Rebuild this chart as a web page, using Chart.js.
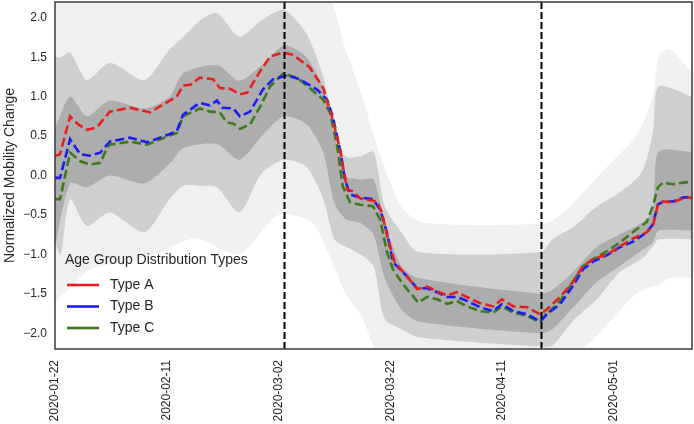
<!DOCTYPE html>
<html>
<head>
<meta charset="utf-8">
<script src="https://cdn.jsdelivr.net/npm/chart.js@4.4.0/dist/chart.umd.min.js"></script>
<style>
  html, body { margin: 0; padding: 0; background: #fff; }
  #wrap { width: 694px; height: 424px; }
</style>
</head>
<body>
<div id="wrap"><canvas id="chart" width="694" height="424"></canvas></div>
<script>
/* ── Data: x = days since 2020-01-22 ───────────────────────────── */

const TICK_DAYS   = [0, 20, 40, 60, 80, 100];
const TICK_LABELS = ['2020-01-22', '2020-02-11', '2020-03-02', '2020-03-22', '2020-04-11', '2020-05-01'];
const Y_TICKS     = [-2.0, -1.5, -1.0, -0.5, 0.0, 0.5, 1.0, 1.5, 2.0];
const EVENT_DAYS  = [41, 87];   /* vertical dashed markers */

const TYPE_NAMES  = ['Type A', 'Type B', 'Type C'];

const A_DAYS = [0, 0.9, 2.7, 4.1, 5.7, 7.5, 9.8, 13.4, 17, 19.3, 21.8, 22.9, 24.2, 25.9, 28.3, 29.5, 31.3, 33.1, 34.4, 36.7, 38.5, 40.8, 42.6, 45.6, 48, 49.7, 51, 52.3, 53.3, 54.6, 57.6, 58.5, 59.6, 60.8, 63, 64.8, 66.6, 68.4, 70.2, 71.9, 73.7, 76.1, 78.4, 80, 82, 84.5, 86.8, 88, 90.4, 92.7, 94.5, 96.3, 98.8, 101.1, 103.4, 105.9, 107, 107.9, 108.8, 110.6, 112.4, 114];
const A_VALS = [0.25, 0.27, 0.75, 0.65, 0.58, 0.61, 0.81, 0.86, 0.80, 0.90, 1.00, 1.14, 1.15, 1.24, 1.22, 1.11, 1.10, 1.03, 1.05, 1.32, 1.51, 1.56, 1.53, 1.37, 1.11, 0.71, 0.33, -0.18, -0.20, -0.29, -0.33, -0.47, -0.81, -1.10, -1.28, -1.44, -1.41, -1.47, -1.52, -1.48, -1.54, -1.62, -1.66, -1.57, -1.66, -1.67, -1.76, -1.70, -1.54, -1.35, -1.15, -1.06, -1.00, -0.90, -0.80, -0.72, -0.64, -0.37, -0.33, -0.34, -0.29, -0.28];

const B_DAYS = [0, 0.9, 2.7, 4.5, 6.3, 8.1, 9.8, 13.4, 16.5, 18.8, 21.8, 22.9, 25.9, 27.7, 29, 29.9, 31.9, 33.1, 34.9, 37.2, 39, 41.5, 43.8, 46.9, 48.7, 49.7, 51, 51.9, 52.8, 54.6, 56.9, 58.2, 59.4, 60.5, 63, 64.8, 66.6, 68.4, 70.2, 71.9, 73.7, 76.1, 78.4, 80, 82, 84.5, 86.8, 88, 90.4, 92.7, 94.5, 96.3, 98.8, 101.1, 103.4, 105.9, 107, 107.9, 108.8, 110.6, 112.4, 114];
const B_VALS = [-0.03, -0.03, 0.46, 0.27, 0.25, 0.29, 0.43, 0.48, 0.42, 0.48, 0.56, 0.77, 0.92, 0.89, 0.95, 0.86, 0.85, 0.75, 0.81, 1.09, 1.22, 1.27, 1.22, 1.09, 0.96, 0.75, 0.33, -0.05, -0.24, -0.28, -0.30, -0.43, -0.72, -1.10, -1.28, -1.43, -1.43, -1.48, -1.54, -1.54, -1.59, -1.67, -1.72, -1.63, -1.72, -1.76, -1.85, -1.76, -1.63, -1.40, -1.19, -1.09, -1.01, -0.91, -0.84, -0.72, -0.62, -0.37, -0.33, -0.33, -0.28, -0.27];

const C_DAYS = [0, 0.9, 2.7, 4.5, 6.3, 8.1, 9.3, 9.8, 13.4, 16.5, 18.8, 21.8, 22.9, 25.9, 27.7, 29.5, 30.8, 31.9, 33.1, 34.9, 36.7, 38.5, 40.8, 43.3, 45.6, 48, 49.2, 50.5, 51.5, 52.8, 54.6, 56.9, 58.2, 59.4, 60.5, 62.3, 65, 66.6, 68.4, 70.2, 71.9, 73.7, 76.1, 78.4, 80, 82, 84.5, 86.8, 88, 90.4, 92.7, 94.5, 96.3, 98.8, 101.1, 103.4, 105.9, 107, 107.9, 108.8, 110.6, 112.4, 114];
const C_VALS = [-0.30, -0.30, 0.29, 0.18, 0.14, 0.16, 0.35, 0.39, 0.43, 0.39, 0.46, 0.54, 0.75, 0.85, 0.81, 0.80, 0.67, 0.66, 0.59, 0.65, 0.87, 1.13, 1.29, 1.24, 1.11, 0.96, 0.80, 0.37, -0.14, -0.34, -0.37, -0.39, -0.56, -0.97, -1.19, -1.38, -1.61, -1.54, -1.57, -1.63, -1.59, -1.66, -1.72, -1.74, -1.66, -1.74, -1.78, -1.86, -1.76, -1.59, -1.35, -1.15, -1.06, -0.96, -0.85, -0.72, -0.59, -0.39, -0.15, -0.09, -0.11, -0.09, -0.08];

/* background county-level lines, summarised as density bands */
const FAINT_DAYS = [0, 3, 6, 12, 18, 25, 33, 40, 46, 49, 52, 55, 58, 62, 66, 88, 92, 96, 100, 104, 107, 108, 110, 114];
const FAINT_TOP  = [2.3, 2.3, 2.3, 2.3, 2.3, 2.3, 2.3, 2.3, 2.3, 2.3, 1.6, 1.0, 0.3, -0.4, -0.6, -0.6, -0.4, -0.1, 0.2, 0.5, 1.0, 1.5, 1.6, 1.3];
const FAINT_BOT  = [-1.6, -1.4, -1.2, -1.1, -1.0, -0.8, -1.0, -0.5, -0.6, -1.0, -1.5, -1.8, -2.3, -2.3, -2.3, -2.3, -2.3, -2.1, -1.8, -1.5, -1.4, -1.4, -1.3, -1.3];

const MID_DAYS = [0, 1, 2.7, 5.7, 9.8, 16, 20.5, 23, 26, 29, 33, 37, 41, 45, 48, 50, 52, 54.6, 57, 59, 62, 65, 87, 89, 93, 97, 101, 105, 107, 108, 114];
const MID_TOP  = [1.5, 1.5, 1.56, 1.21, 1.43, 1.21, 1.6, 1.76, 1.97, 2.06, 1.76, 1.97, 2.1, 1.8, 1.25, 0.62, 0.24, 0.24, 0.3, -0.39, -0.72, -0.97, -0.97, -0.81, -0.64, -0.39, -0.22, 0.04, 0.54, 1.13, 1.0];
const MID_BOT  = [-0.85, -1.0, -0.3, -0.64, -0.47, -0.72, -0.3, -0.13, -0.13, -0.15, -0.47, 0.03, 0.2, 0.11, -0.3, -0.81, -0.9, -1.0, -1.15, -1.82, -1.95, -2.05, -2.17, -2.16, -1.82, -1.57, -1.23, -1.06, -0.9, -0.81, -0.81];

const CORE_DAYS = [0, 2.7, 5.7, 9.8, 16, 20.5, 23, 29, 33, 37, 41, 45, 48, 50, 52, 54.6, 57, 59, 62, 65, 87, 89, 93, 97, 101, 105, 107, 108, 114];
const CORE_TOP  = [0.6, 1.0, 0.75, 0.95, 0.85, 1.0, 1.3, 1.4, 1.2, 1.4, 1.65, 1.5, 1.1, 0.5, 0.0, -0.05, -0.05, -0.6, -1.15, -1.3, -1.5, -1.45, -1.2, -0.9, -0.75, -0.6, -0.45, 0.3, 0.3];
const CORE_BOT  = [-0.9, -0.1, -0.15, 0.0, -0.1, 0.15, 0.35, 0.4, 0.2, 0.5, 0.75, 0.65, 0.3, -0.35, -0.55, -0.6, -0.75, -1.3, -1.7, -1.85, -2.0, -1.95, -1.65, -1.35, -1.15, -0.95, -0.85, -0.7, -0.7];

/* ── Styling ───────────────────────────────────────────────────── */
const TYPE_COLORS = ['#e3201c', '#1c1cf5', '#3b7a1d'];
const FONT = "'Liberation Sans', Arial, sans-serif";

Chart.defaults.font.family = FONT;
Chart.defaults.color = '#262626';

const pts = (xs, ys) => xs.map((x, i) => ({ x, y: ys[i] }));

function band(days, top, bot, color) {
  return [
    { data: pts(days, top), fill: '+1', backgroundColor: color, borderWidth: 0, pointRadius: 0, tension: 0.25, order: 5 },
    { data: pts(days, bot), fill: false, borderWidth: 0, pointRadius: 0, tension: 0.25, order: 5 },
  ];
}

function typeLine(days, vals, color, order) {
  return { data: pts(days, vals), borderColor: color, borderWidth: 2.6, borderDash: [9, 4],
           pointRadius: 0, fill: false, tension: 0, order };
}

/* ── Plugins: frame, event lines, legend ───────────────────────── */
const overlay = {
  id: 'overlay',
  afterDatasetsDraw(chart) {
    const { ctx, chartArea: a, scales: { x } } = chart;
    ctx.save();
    ctx.strokeStyle = '#000';
    ctx.lineWidth = 2;
    ctx.setLineDash([7, 3]);
    EVENT_DAYS.forEach(d => {
      const px = Math.round(x.getPixelForValue(d)) + 0.5;
      ctx.beginPath();
      ctx.moveTo(px, a.top);
      ctx.lineTo(px, a.bottom);
      ctx.stroke();
    });
    ctx.restore();
  },
  afterDraw(chart) {
    const { ctx, chartArea: a } = chart;
    ctx.save();
    ctx.strokeStyle = '#3a3a3a';
    ctx.lineWidth = 1.5;
    ctx.strokeRect(a.left, a.top, a.right - a.left, a.bottom - a.top);

    /* legend */
    ctx.font = '14px ' + FONT;
    ctx.fillStyle = '#262626';
    ctx.textBaseline = 'middle';
    ctx.fillText('Age Group Distribution Types', 65, 260);
    TYPE_NAMES.forEach((name, i) => {
      const y = 285 + i * 21.5;
      ctx.strokeStyle = TYPE_COLORS[i];
      ctx.lineWidth = 2.6;
      ctx.beginPath();
      ctx.moveTo(67, y);
      ctx.lineTo(99, y);
      ctx.stroke();
      ctx.fillStyle = '#262626';
      ctx.fillText(name, 110, y);
    });
    ctx.restore();
  },
};

/* ── Chart ─────────────────────────────────────────────────────── */
new Chart(document.getElementById('chart'), {
  type: 'line',
  data: {
    datasets: [
      typeLine(A_DAYS, A_VALS, TYPE_COLORS[0], 0),
      typeLine(B_DAYS, B_VALS, TYPE_COLORS[1], 1),
      typeLine(C_DAYS, C_VALS, TYPE_COLORS[2], 2),
      ...band(FAINT_DAYS, FAINT_TOP, FAINT_BOT, 'rgba(0,0,0,0.06)'),
      ...band(MID_DAYS, MID_TOP, MID_BOT, 'rgba(0,0,0,0.14)'),
      ...band(CORE_DAYS, CORE_TOP, CORE_BOT, 'rgba(0,0,0,0.17)'),
    ],
  },
  options: {
    responsive: false,
    animation: false,
    layout: { padding: { left: 0, right: 2, top: 2, bottom: 0 } },
    plugins: { legend: { display: false }, tooltip: { enabled: false } },
    scales: {
      x: {
        type: 'linear',
        min: 0,
        max: 114,
        grid: { display: false, drawTicks: false },
        border: { display: false },
        afterBuildTicks: s => { s.ticks = TICK_DAYS.map(v => ({ value: v })); },
        afterFit: s => { s.height = 75; s.paddingLeft = 0; s.paddingRight = 0; },
        ticks: {
          autoSkip: false,
          minRotation: 90,
          maxRotation: 90,
          padding: 11,
          font: { size: 12 },
          callback: (v, i) => TICK_LABELS[i],
        },
      },
      y: {
        min: -2.2,
        max: 2.2,
        grid: { display: false, drawTicks: false },
        border: { display: false },
        afterBuildTicks: s => { s.ticks = Y_TICKS.map(v => ({ value: v })); },
        afterFit: s => { s.width = 55; s.paddingTop = 0; s.paddingBottom = 0; },
        ticks: {
          padding: 8,
          font: { size: 12 },
          callback: v => v.toFixed(1).replace('-', '\u2212'),
        },
        title: {
          display: true,
          text: 'Normalized Mobility Change',
          font: { size: 14 },
          color: '#262626',
          padding: { top: 2, bottom: 0 },
        },
      },
    },
  },
  plugins: [overlay],
});
</script>
</body>
</html>
